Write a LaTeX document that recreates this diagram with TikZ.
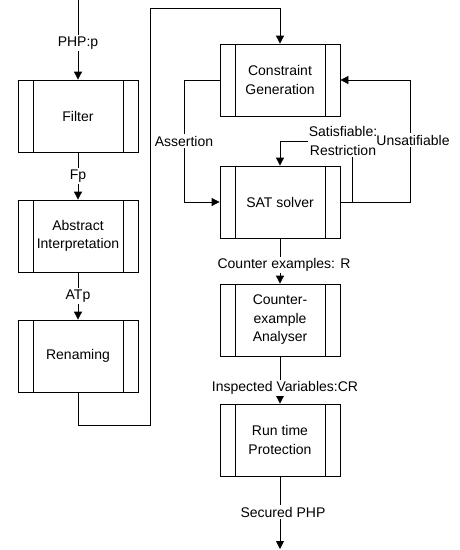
\documentclass[tikz,border=0pt]{standalone}
\usepackage{fontspec}
\setmainfont{Liberation Sans}
\usetikzlibrary{arrows.meta}
\begin{document}
\begin{tikzpicture}[x=1pt,y=-1pt,
  txt/.style={font=\fontsize{14}{18.5}\selectfont},
  proc/.style={draw, line width=0.8pt, minimum width=120pt, minimum height=72pt,
    inner sep=0pt, align=center, txt,
    path picture={
      \draw[line width=0.8pt]
        ([xshift=15pt]path picture bounding box.north west) --
        ([xshift=15pt]path picture bounding box.south west)
        ([xshift=-15pt]path picture bounding box.north east) --
        ([xshift=-15pt]path picture bounding box.south east);
    }},
  link/.style={line width=0.8pt},
  flow/.style={link, -{Triangle[length=8pt,width=8pt]}},
  lbl/.style={fill=white, inner sep=1.5pt, align=center, txt},
  plain/.style={inner sep=1pt, align=center, txt}]
\useasboundingbox (0,0) rectangle (460,550);

% processing stages
\node[proc] (filter) at (78,116) {Filter};
\node[proc] (abs)    at (78,236) {Abstract\\Interpretation};
\node[proc] (ren)    at (78,356) {Renaming};
\node[proc] (cg)     at (280,80) {Constraint\\Generation};
\node[proc] (sat)    at (280,202) {SAT solver};
\node[proc] (ce)     at (280,320) {Counter-\\example\\Analyser};
\node[proc] (rt)     at (280,440) {Run time\\Protection};

% free ends and bends
\coordinate (in)  at (78,0);
\coordinate (out) at (280,549);
\coordinate (j1) at (78,425);
\coordinate (j2) at (150,425);
\coordinate (j3) at (150,8);
\coordinate (j4) at (280,8);
\coordinate (a1) at (184,80);
\coordinate (a2) at (184,202);
\coordinate (u1) at (410,202);
\coordinate (u2) at (410,80);
\coordinate (s1) at (352,202);
\coordinate (s3) at (280,141);

% left column
\draw[flow] (in) -- node[lbl, pos=0.54] {PHP:p} (filter.north);
\draw[flow] (filter.south) -- node[lbl] {Fp} (abs.north);
\draw[flow] (abs.south) -- node[lbl] {ATp} (ren.north);
\draw[flow] (ren.south) -- (j1) -- (j2) -- (j3) -- (j4) -- (cg.north);

% solver loop
\draw[flow] (cg.west) -- (a1) -- node[lbl] {Assertion} (a2) -- (sat.west);
\draw[flow] (sat.east) -- (u1) -- (u2) -- (cg.east);
\node[lbl] (unsat) at (413,140) {Unsatifiable};
\node[plain] (satis) at (343,141) {Satisfiable:\\Restriction};
\draw[link] (s1) -- (s1 |- satis.south);
\draw[flow] (satis.west |- s3) -- (s3) -- (sat.north);

% right column
\draw[flow] (sat.south) -- (ce.north);
\node[lbl] (lr) at (284,265) {Counter examples: R};
\draw[flow] (ce.south) -- (rt.north);
\node[lbl] (lcr) at (285,388) {Inspected Variables:CR};
\draw[flow] (rt.south) -- (out);
\node[lbl] (lsp) at (283,512) {Secured PHP};
\end{tikzpicture}
\end{document}
